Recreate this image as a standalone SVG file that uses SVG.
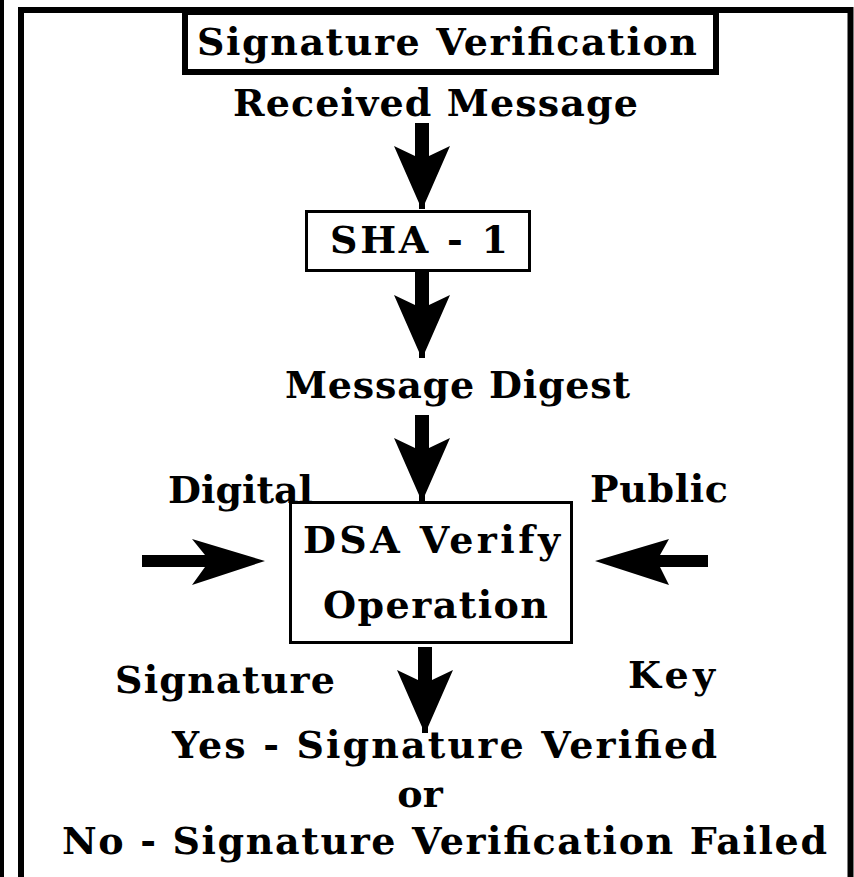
<svg xmlns="http://www.w3.org/2000/svg" width="854" height="877" viewBox="0 0 854 877">
<style>
text{font-family:"DejaVu Serif","Liberation Serif","Times New Roman",serif;font-weight:bold;font-size:38px;fill:#000}
.box{fill:#fff;stroke:#000}
.arr{fill:#000}
</style>
<defs>
<path id="down" d="M-7,0 H7 V33 L28,23 L3,80 V86 H-3 V80 L-28,23 L-7,33 Z"/>
</defs>
<rect x="0" y="0" width="854" height="877" fill="#fff"/>
<g id="frame">
<rect x="0" y="0" width="4" height="877" fill="#000"/>
<path d="M21,877 V10 H850.5 V877" fill="none" stroke="#000" stroke-width="6"/>
<rect x="848" y="7" width="4" height="870" fill="#000"/>
</g>
<g id="title">
<rect class="box" x="185" y="12" width="531" height="60" stroke-width="6"/>
<text x="197" y="55" textLength="500" lengthAdjust="spacing">Signature Verification</text>
</g>
<g id="received">
<text x="233" y="116" textLength="405" lengthAdjust="spacing">Received Message</text>
</g>
<g id="sha1">
<rect class="box" x="306.5" y="211.5" width="223" height="59" stroke-width="3"/>
<text x="330" y="253" textLength="178" lengthAdjust="spacing">SHA - 1</text>
</g>
<g id="digest">
<text x="285" y="398" textLength="345" lengthAdjust="spacing">Message Digest</text>
</g>
<g id="dsa">
<rect class="box" x="290.5" y="502.5" width="281" height="140" stroke-width="3"/>
<text x="303" y="553" textLength="257" lengthAdjust="spacing">DSA Verify</text>
<text x="323" y="618" textLength="225" lengthAdjust="spacing">Operation</text>
</g>
<g id="digital-signature">
<text x="168" y="503" textLength="145" lengthAdjust="spacing">Digital</text>
<text x="115" y="693" textLength="220" lengthAdjust="spacing">Signature</text>
</g>
<g id="public-key">
<text x="590" y="502" textLength="138" lengthAdjust="spacing">Public</text>
<text x="628" y="688" textLength="87" lengthAdjust="spacing">Key</text>
</g>
<g id="result">
<text x="172" y="758" textLength="545" lengthAdjust="spacing">Yes - Signature Verified</text>
<text x="420" y="807" text-anchor="middle">or</text>
<text x="62" y="854" textLength="765" lengthAdjust="spacing">No - Signature Verification Failed</text>
</g>
<g id="connectors" class="arr">
<use href="#down" transform="translate(422,123)"/>
<use href="#down" transform="translate(422,272)"/>
<use href="#down" transform="translate(422,415)"/>
<use href="#down" transform="translate(425,647)"/>
<path d="M142,555 H205 L192,539 L265,561 L192,585 L205,567 H142 Z"/>
<path d="M708,555 H660 L669,539 L595,561 L669,585 L660,567 H708 Z"/>
</g>
</svg>
